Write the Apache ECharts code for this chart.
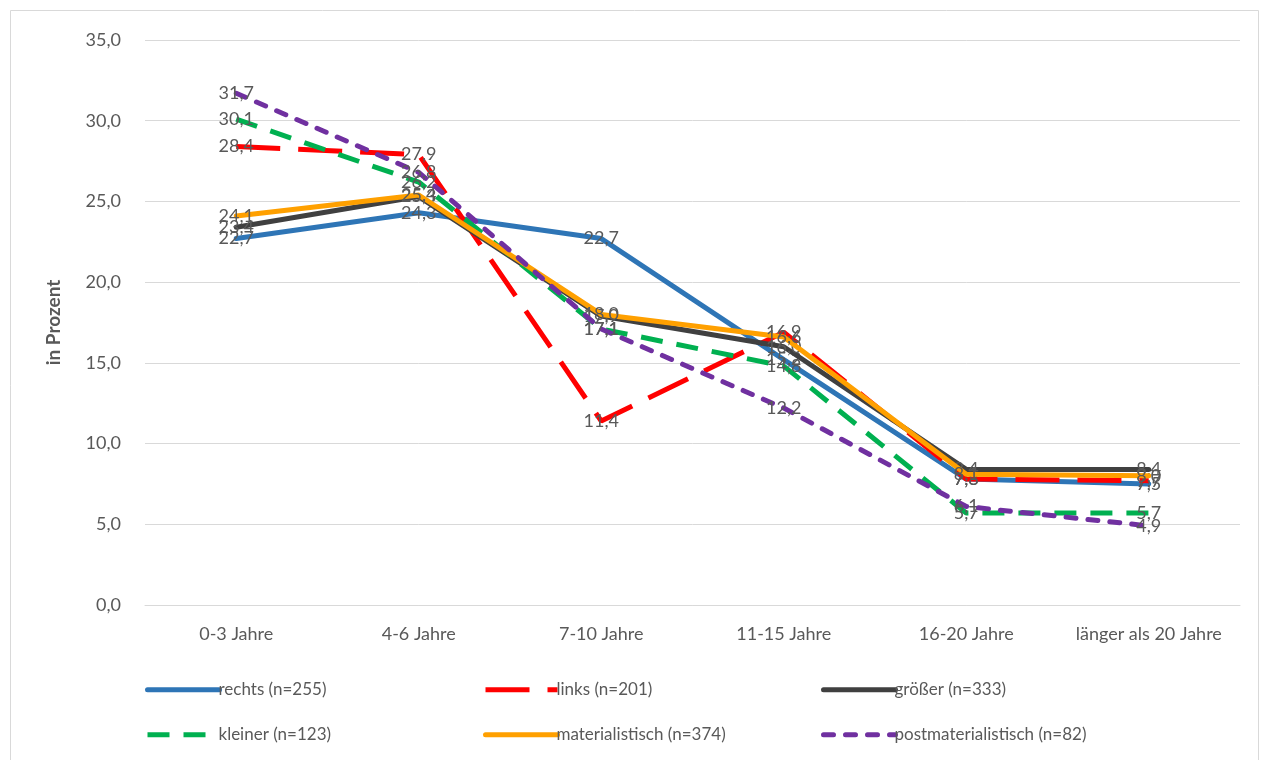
<!DOCTYPE html>
<html>
<head>
<meta charset="utf-8">
<script src="https://cdn.jsdelivr.net/npm/echarts@6/dist/echarts.min.js"></script>
<style>
html,body{margin:0;padding:0;background:#fff;}
#chart{width:1269px;height:760px;}
</style>
</head>
<body>
<div id="chart"></div>
<script>
const categories = ['0-3 Jahre', '4-6 Jahre', '7-10 Jahre', '11-15 Jahre', '16-20 Jahre', 'länger als 20 Jahre'];
const seriesNames = ['rechts (n=255)', 'links (n=201)', 'größer (n=333)', 'kleiner (n=123)', 'materialistisch (n=374)', 'postmaterialistisch (n=82)'];
const rechts = [22.7, 24.3, 22.7, 15.2, 7.8, 7.5];
const links = [28.4, 27.9, 11.4, 16.9, 7.8, 7.7];
const groesser = [23.4, 25.3, 17.9, 16.0, 8.4, 8.4];
const kleiner = [30.1, 26.2, 17.1, 14.8, 5.7, 5.7];
const materialistisch = [24.1, 25.4, 18.0, 16.6, 8.1, 8.0];
const postmaterialistisch = [31.7, 26.8, 17.1, 12.2, 6.1, 4.9];
const yTicks = [0, 5, 10, 15, 20, 25, 30, 35];

const FONT = 'Lato';
const GREY = '#595959';
const fmt = v => v.toFixed(1).replace('.', ',');

const styles = [
  {color: '#2e75b6', type: 'solid', cap: 'round'},
  {color: '#ff0000', type: [44, 18], cap: 'butt'},
  {color: '#404040', type: 'solid', cap: 'round'},
  {color: '#00b050', type: [22, 14], cap: 'butt'},
  {color: '#ffa000', type: 'solid', cap: 'round'},
  {color: '#7030a0', type: [10, 12], cap: 'round'}
];
const values = [rechts, links, groesser, kleiner, materialistisch, postmaterialistisch];

const series = values.map((d, i) => ({
  name: seriesNames[i],
  type: 'line',
  data: d,
  symbol: 'circle',
  symbolSize: 0,
  itemStyle: {color: styles[i].color},
  lineStyle: {color: styles[i].color, width: 5, type: styles[i].type, cap: styles[i].cap},
  label: {
    show: true, position: 'inside', formatter: p => fmt(p.value),
    fontFamily: FONT, fontSize: 18, color: GREY
  },
  labelLayout: {hideOverlap: false},
  emphasis: {disabled: true},
  z: 2 + i,
  animation: false
}));

const legendPos = [[140, 676], [478, 676], [816, 676], [140, 721], [478, 721], [816, 721]];
const legends = seriesNames.map((n, i) => ({
  data: [n],
  left: legendPos[i][0],
  top: legendPos[i][1],
  itemWidth: 72,
  itemHeight: 22,
  itemStyle: {opacity: 0},
  lineStyle: {width: 5},
  selectedMode: false,
  textStyle: {fontFamily: FONT, fontSize: 17, color: GREY, padding: [0, 0, 0, -6]}
}));

const chart = echarts.init(document.getElementById('chart'), null, {renderer: 'canvas'});
chart.setOption({
  backgroundColor: '#fff',
  animation: false,
  graphic: [{
    type: 'rect', shape: {x: 10.5, y: 10.5, width: 1248, height: 760},
    style: {fill: 'none', stroke: '#d9d9d9', lineWidth: 1}, z: -1
  }],
  grid: {left: 145, right: 29, top: 40, bottom: 155},
  xAxis: {
    type: 'category',
    data: categories,
    boundaryGap: true,
    axisLine: {show: true, lineStyle: {color: '#d9d9d9', width: 1}},
    axisTick: {show: false},
    axisLabel: {fontFamily: FONT, fontSize: 18, color: GREY, margin: 20, interval: 0}
  },
  yAxis: {
    type: 'value',
    min: yTicks[0], max: yTicks[yTicks.length - 1], interval: 5,
    name: 'in Prozent',
    nameLocation: 'middle',
    nameGap: 82,
    nameTextStyle: {fontFamily: FONT, fontSize: 19, fontWeight: 'bold', color: GREY},
    axisLine: {show: false},
    axisTick: {show: false},
    splitLine: {lineStyle: {color: '#d9d9d9', width: 1}},
    axisLabel: {fontFamily: FONT, fontSize: 18, color: GREY, margin: 24, formatter: v => fmt(v)}
  },
  legend: legends,
  series: series
});
</script>
</body>
</html>
